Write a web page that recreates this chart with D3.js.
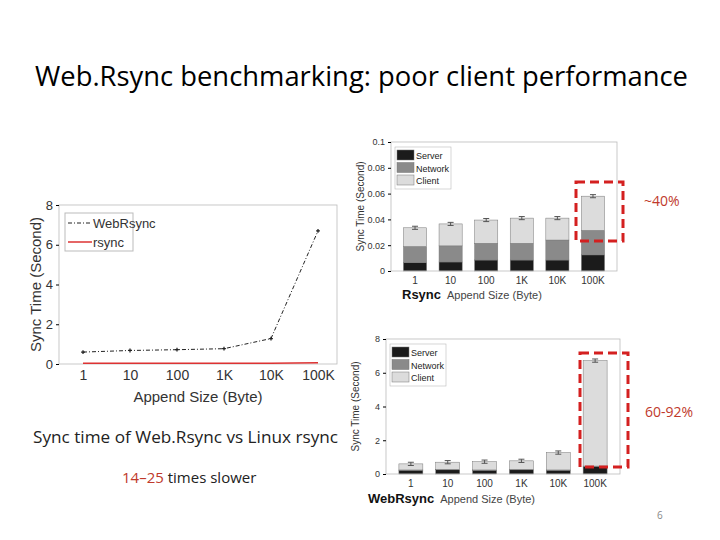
<!DOCTYPE html><html><head><meta charset="utf-8">
<script src="https://cdn.jsdelivr.net/npm/d3@7"></script>
<style>body{margin:0;background:#fff}</style></head><body>
<svg id="s" width="720" height="540"></svg>
<script>
const categories=["1","10","100","1K","10K","100K"];
const webrsyncLine=[0.6,0.68,0.72,0.77,1.28,6.7];
const rsyncLine=[0.034,0.037,0.04,0.041,0.041,0.058];
const rsyncServer=[0.0065,0.007,0.0085,0.0085,0.0085,0.0125];
const rsyncNetwork=[0.0125,0.0125,0.013,0.013,0.0155,0.019];
const rsyncClient=[0.0145,0.017,0.018,0.0195,0.017,0.0265];
const webServer=[0.22,0.25,0.22,0.25,0.22,0.45];
const webNetwork=[0.02,0.02,0.02,0.02,0.02,0.02];
const webClient=[0.36,0.43,0.49,0.51,1.03,6.25];
const yTicksLeft=[0,2,4,6,8];
const yTicksRsync=[0,0.02,0.04,0.06,0.08,0.1];

const svg=d3.select("#s");
const F="Liberation Sans, Arial, sans-serif";
svg.append("text").attr("x",35).attr("y",86).attr("font-family","Open Sans, sans-serif").attr("font-size",27)
 .attr("textLength",653).attr("lengthAdjust","spacingAndGlyphs").text("Web.Rsync benchmarking: poor client performance");

function axes(g,x,y,L,R,T,B,ticks,fmt){
  g.append("rect").attr("x",L).attr("y",T).attr("width",R-L).attr("height",B-T).attr("fill","none").attr("stroke","#bbb").attr("stroke-width",0.8);
  const ya=g.append("g").attr("transform",`translate(${L},0)`).call(d3.axisLeft(y).tickValues(ticks).tickFormat(fmt).tickSize(3));
  const xa=g.append("g").attr("transform",`translate(0,${B})`).call(d3.axisBottom(x).tickSize(0).tickPadding(6));
  [ya,xa].forEach(a=>{a.select(".domain").remove();a.selectAll("text").attr("font-family",F).attr("fill","#333");});
  return {ya,xa};
}
{
 const L=59,R=337,T=205,B=364;
 const x=d3.scalePoint().domain(categories).range([83,318]);
 const y=d3.scaleLinear().domain([0,8]).range([B,T]);
 const g=svg.append("g");
 const a=axes(g,x,y,L,R,T,B,yTicksLeft,d3.format("d"));
 a.ya.selectAll("text").attr("font-size",13);a.xa.selectAll("text").attr("font-size",14);
 g.append("text").attr("x",(L+R)/2).attr("y",402).attr("text-anchor","middle").attr("font-family",F).attr("font-size",15).attr("fill","#333").text("Append Size (Byte)");
 g.append("text").attr("transform",`translate(41,${(T+B)/2}) rotate(-90)`).attr("text-anchor","middle").attr("font-family",F).attr("font-size",15).attr("fill","#333").text("Sync Time (Second)");
 const line=d3.line().x((d,i)=>x(categories[i])).y(d=>y(d));
 g.append("path").datum(rsyncLine).attr("d",line).attr("fill","none").attr("stroke","#d33").attr("stroke-width",1.5);
 g.append("path").datum(webrsyncLine).attr("d",line).attr("fill","none").attr("stroke","#222").attr("stroke-width",1).attr("stroke-dasharray","4,2,1,2");
 g.selectAll(".m").data(webrsyncLine).join("path").attr("d",d3.symbol(d3.symbolCross,8)).attr("fill","#222").attr("transform",(d,i)=>`translate(${x(categories[i])},${y(d)})`);
 const lg=g.append("g");
 lg.append("rect").attr("x",65).attr("y",213).attr("width",68).attr("height",38).attr("fill","#fff").attr("stroke","#bbb");
 lg.append("line").attr("x1",68).attr("x2",92).attr("y1",223).attr("y2",223).attr("stroke","#222").attr("stroke-dasharray","4,2,1,2");
 lg.append("line").attr("x1",68).attr("x2",92).attr("y1",242).attr("y2",242).attr("stroke","#d33").attr("stroke-width",1.5);
 lg.append("text").attr("x",93).attr("y",228).attr("font-family",F).attr("font-size",13).attr("fill","#333").text("WebRsync");
 lg.append("text").attr("x",93).attr("y",247).attr("font-family",F).attr("font-size",13).attr("fill","#333").text("rsync");
}
const colors=["#1b1b1b","#8a8a8a","#dcdcdc"];
function stacked(L,R,T,B,domainMax,ticks,fmt,series,label,labX,labY,lgY){
 const x=d3.scaleBand().domain(categories).range([L,R]).paddingInner(0.35).paddingOuter(0.35);
 const y=d3.scaleLinear().domain([0,domainMax]).range([B,T]);
 const g=svg.append("g");
 const rows=categories.map((c,i)=>({c,s:series[0][i],n:series[1][i],cl:series[2][i]}));
 const st=d3.stack().keys(["s","n","cl"])(rows);
 st.forEach((layer,k)=>g.selectAll(null).data(layer).join("rect").attr("x",d=>x(d.data.c)).attr("width",x.bandwidth())
   .attr("y",d=>y(d[1])).attr("height",d=>y(d[0])-y(d[1])).attr("fill",colors[k]).attr("stroke","#777").attr("stroke-width",0.5));
 st[2].forEach(d=>{const cx=x(d.data.c)+x.bandwidth()/2,e=domainMax*0.012;
   g.append("path").attr("d",`M${cx-3},${y(d[1]+e)}H${cx+3}M${cx},${y(d[1]+e)}V${y(d[1]-e)}M${cx-3},${y(d[1]-e)}H${cx+3}`).attr("stroke","#555").attr("fill","none");});
 const a=axes(g,x,y,L,R,T,B,ticks,fmt);
 a.ya.selectAll("text").attr("font-size",9);a.xa.selectAll("text").attr("font-size",10);
 g.append("text").attr("transform",`translate(${L-27},${(T+B)/2}) rotate(-90)`).attr("text-anchor","middle").attr("font-family",F).attr("font-size",10).attr("fill","#333").text("Sync Time (Second)");
 const t=g.append("text").attr("x",labX).attr("y",labY).attr("font-family",F);
 t.append("tspan").attr("font-weight","bold").attr("font-size",13).attr("fill","#111").text(label);
 t.append("tspan").attr("dx",6).attr("font-size",11).attr("fill","#444").text("Append Size (Byte)");
 ["Server","Network","Client"].forEach((n,k)=>{
   g.append("rect").attr("x",L+6).attr("y",lgY+k*12.5).attr("width",17).attr("height",10).attr("fill",colors[k]).attr("stroke","#777").attr("stroke-width",0.5);
   g.append("text").attr("x",L+25).attr("y",lgY+k*12.5+9).attr("font-family",F).attr("font-size",9).attr("fill","#222").text(n);
 });
 g.append("rect").attr("x",L+4).attr("y",lgY-3).attr("width",56).attr("height",42).attr("fill","none").attr("stroke","#bbb").attr("stroke-width",0.6);
}
stacked(391,617,142,271,0.1,yTicksRsync,d=>d===0?"0":d3.format(".2~f")(d),[rsyncServer,rsyncNetwork,rsyncClient],"Rsync",402,299,150);
stacked(386,620,339,474,8,yTicksLeft,d3.format("d"),[webServer,webNetwork,webClient],"WebRsync",368,503,347);
[[576,182,47,59],[580,353,48,114]].forEach(b=>svg.append("rect").attr("x",b[0]).attr("y",b[1]).attr("width",b[2]).attr("height",b[3]).attr("fill","none").attr("stroke","#d42020").attr("stroke-width",3).attr("stroke-dasharray","9,5"));
const OS="Open Sans, sans-serif";
svg.append("text").attr("x",644).attr("y",206).attr("font-family",OS).attr("font-size",14).attr("fill","#c0392b").text("~40%");
svg.append("text").attr("x",645).attr("y",417).attr("font-family",OS).attr("font-size",14).attr("fill","#c0392b").text("60-92%");
svg.append("text").attr("x",33).attr("y",443).attr("font-family",OS).attr("font-size",17).attr("textLength",305).attr("lengthAdjust","spacingAndGlyphs").attr("fill","#222").text("Sync time of Web.Rsync vs Linux rsync");
const t2=svg.append("text").attr("x",122).attr("y",483).attr("font-family",OS).attr("font-size",15);
t2.append("tspan").attr("fill","#c0392b").text("14–25");t2.append("tspan").attr("fill","#222").text(" times slower");
svg.append("text").attr("x",657).attr("y",519).attr("font-family",OS).attr("font-size",10).attr("fill","#888").text("6");
</script></body></html>
